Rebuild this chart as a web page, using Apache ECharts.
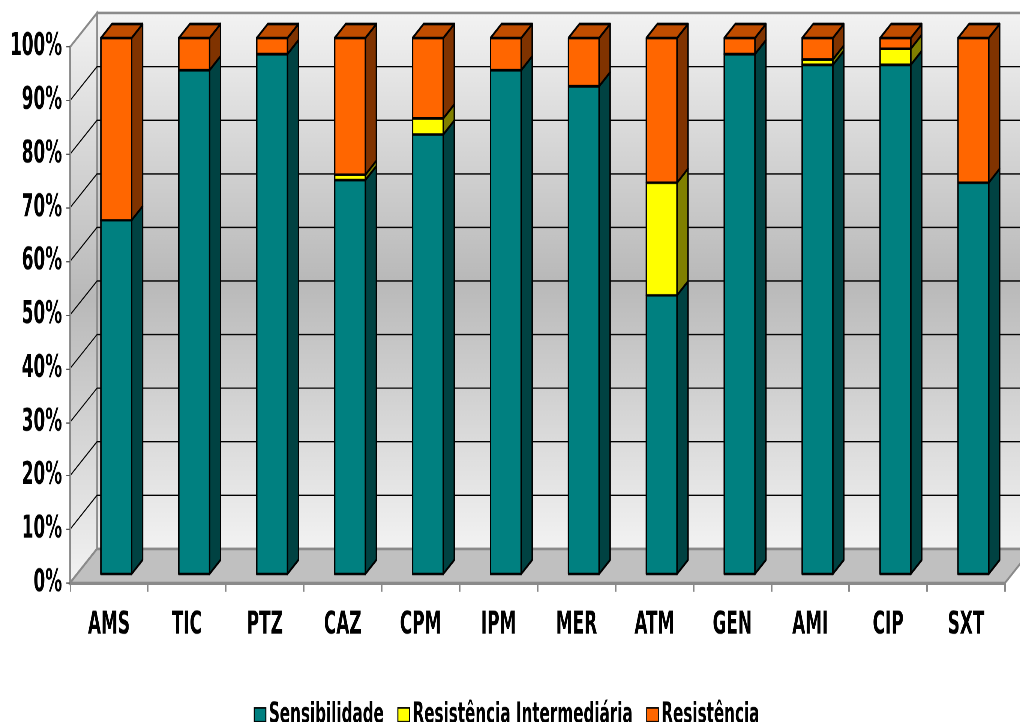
<!DOCTYPE html>
<html>
<head>
<meta charset="utf-8">
<script src="https://cdn.jsdelivr.net/npm/echarts@6/dist/echarts.min.js"></script>
<style>
  html, body { margin: 0; padding: 0; background: #ffffff; }
  #frame { position: relative; width: 1020px; height: 722px; overflow: hidden; background: #ffffff; }
  /* the chart is laid out wide and short, then squeezed/stretched into the frame */
  #chart { position: absolute; left: 0; top: 0; width: 1360px; height: 564.0625px;
           transform: scale(0.75, 1.28); transform-origin: 0 0; }
</style>
</head>
<body>
<div id="frame"><div id="chart"></div></div>
<script>
// Antimicrobial susceptibility profile (%), per drug
const categories = ['AMS', 'TIC', 'PTZ', 'CAZ', 'CPM', 'IPM', 'MER', 'ATM', 'GEN', 'AMI', 'CIP', 'SXT'];
const sensibilidade = [66, 94, 97, 73.5, 82, 94, 91, 52, 97, 95, 95, 73];
const intermediaria = [0, 0, 0, 1, 3, 0, 0, 21, 0, 1, 3, 0];
const resistencia = [34, 6, 3, 25.5, 15, 6, 9, 27, 3, 4, 2, 27];
const yTicks = [0, 10, 20, 30, 40, 50, 60, 70, 80, 90, 100];

const seriesNames = ['Sensibilidade', 'Resistência Intermediária', 'Resistência'];
const seriesValues = [sensibilidade, intermediaria, resistencia];
const faceColors = [
  { front: '#008080', side: '#004242', top: '#006060' },
  { front: '#FFFF00', side: '#808000', top: '#C0C000' },
  { front: '#FF6600', side: '#803300', top: '#C04D00' }
];

// horizontal / vertical scale applied to the chart element
const SX = 0.75, SY = 1.28;
const FONT = "'Liberation Sans Narrow', 'Arial Narrow', 'DejaVu Sans Condensed', sans-serif";
const DEPTH_X = 27 / SX, DEPTH_Y = 34 / SY;     // wall depth offset
const FRONT_X = 7.3 / SX, FRONT_Y = 9 / SY;     // bar front plane offset
const BAR_DX = 11 / SX, BAR_DY = 14 / SY;       // bar depth
const BAR_RATIO = 0.394;                        // bar width share of a category

// stacked segments: [category, start, end, isTopOfStack]
function buildStack(k) {
  const out = [];
  categories.forEach((c, i) => {
    let start = 0;
    for (let j = 0; j < k; j++) start += seriesValues[j][i];
    const end = start + seriesValues[k][i];
    let above = 0;
    for (let j = k + 1; j < seriesValues.length; j++) above += seriesValues[j][i];
    if (seriesValues[k][i] > 0) out.push([i, start, end, above > 0 ? 0 : 1]);
  });
  return out;
}

function renderBar(k) {
  const col = faceColors[k];
  return function (params, api) {
    const idx = api.value(0);
    const b = api.coord([idx, api.value(1)]);
    const t = api.coord([idx, api.value(2)]);
    const w = api.size([1, 0])[0] * BAR_RATIO;
    const x = b[0] + FRONT_X - w / 2;
    const yb = b[1] - FRONT_Y;
    const yt = t[1] - FRONT_Y;
    const edge = { stroke: '#000', lineWidth: 1.9, lineJoin: 'round' };
    const children = [
      {
        type: 'polygon',
        shape: { points: [[x + w, yb], [x + w + BAR_DX, yb - BAR_DY], [x + w + BAR_DX, yt - BAR_DY], [x + w, yt]] },
        style: Object.assign({ fill: col.side }, edge)
      },
      {
        type: 'rect',
        shape: { x: x, y: yt, width: w, height: yb - yt },
        style: Object.assign({ fill: col.front }, edge)
      }
    ];
    if (api.value(3) === 1) {
      children.push({
        type: 'polygon',
        shape: { points: [[x, yt], [x + w, yt], [x + w + BAR_DX, yt - BAR_DY], [x + BAR_DX, yt - BAR_DY]] },
        style: Object.assign({ fill: col.top }, edge)
      });
    }
    return { type: 'group', children: children };
  };
}

// back wall, side wall, floor and the gridlines drawn on them
function renderWalls(params, api) {
  const cs = params.coordSys;
  const L = cs.x, R = cs.x + cs.width;
  const B = api.coord([0, 0])[1];
  const T = api.coord([0, 100])[1];
  const grad = () => new echarts.graphic.LinearGradient(0, 0, 0, 1, [
    { offset: 0, color: '#f3f3f3' },
    { offset: 0.5, color: '#b9b9b9' },
    { offset: 1, color: '#f3f3f3' }
  ]);
  const children = [
    {
      type: 'polygon',
      shape: { points: [[L + DEPTH_X, T - DEPTH_Y], [R + DEPTH_X, T - DEPTH_Y], [R + DEPTH_X, B - DEPTH_Y], [L + DEPTH_X, B - DEPTH_Y]] },
      style: { fill: grad(), stroke: '#8a8a8a', lineWidth: 2 }
    },
    {
      type: 'polygon',
      shape: { points: [[L, B], [L + DEPTH_X, B - DEPTH_Y], [L + DEPTH_X, T - DEPTH_Y], [L, T]] },
      style: { fill: grad(), stroke: '#8a8a8a', lineWidth: 2 }
    }
  ];
  yTicks.forEach(v => {
    if (v === 0 || v === 100) return;
    const y = api.coord([0, v])[1];
    children.push({
      type: 'polyline',
      shape: { points: [[L, y], [L + DEPTH_X, y - DEPTH_Y], [R + DEPTH_X, y - DEPTH_Y]] },
      style: { stroke: '#000', lineWidth: 1.1, fill: null }
    });
  });
  children.push({
    type: 'polygon',
    shape: { points: [[L, B], [R, B], [R + DEPTH_X, B - DEPTH_Y], [L + DEPTH_X, B - DEPTH_Y]] },
    style: { fill: '#c0c0c0', stroke: '#8a8a8a', lineWidth: 2 }
  });
  return { type: 'group', children: children };
}

const chart = echarts.init(document.getElementById('chart'), null, { devicePixelRatio: 2 });

const series = [{
  type: 'custom',
  name: 'walls',
  z: -1,
  silent: true,
  clip: false,
  renderItem: renderWalls,
  data: [[0, 0]],
  encode: { x: 0, y: 1 }
}];
seriesNames.forEach((name, k) => {
  series.push({
    type: 'custom',
    name: name,
    z: 3 + k,
    clip: false,
    itemStyle: { color: faceColors[k].front, borderColor: '#000', borderWidth: 1.3 },
    renderItem: renderBar(k),
    data: buildStack(k),
    encode: { x: 0, y: [1, 2] }
  });
});

chart.setOption({
  animation: false,
  backgroundColor: '#ffffff',
  textStyle: { fontFamily: FONT },
  grid: { left: 70 / SX, right: 15 / SX, top: 47 / SY, bottom: (722 - 583) / SY, containLabel: false },
  xAxis: {
    type: 'category',
    data: categories,
    boundaryGap: true,
    axisLine: { lineStyle: { color: '#8a8a8a', width: 2 } },
    axisTick: { show: true, length: 7, lineStyle: { color: '#8a8a8a', width: 2 } },
    axisLabel: { margin: 20.5, color: '#000', fontSize: 25, fontWeight: 'bold', fontFamily: FONT },
    splitLine: { show: false }
  },
  yAxis: {
    type: 'value',
    min: 0,
    max: 100,
    interval: 10,
    axisLine: { show: true, lineStyle: { color: '#8a8a8a', width: 2.5 } },
    axisTick: { show: true, length: 5, lineStyle: { color: '#555', width: 1 } },
    axisLabel: { margin: 10.5, color: '#000', fontSize: 25, fontWeight: 'bold', fontFamily: FONT, formatter: '{value}%' },
    splitLine: { show: false }
  },
  legend: {
    data: seriesNames,
    left: 250 / SX,
    top: 542,
    itemWidth: 15.5,
    itemHeight: 10.7,
    itemGap: 18,
    icon: 'rect',
    itemStyle: { borderColor: '#000', borderWidth: 1.3 },
    textStyle: { color: '#000', fontSize: 22.5, fontWeight: 'bold', fontFamily: FONT, padding: [0, 0, 0, -1] }
  },
  series: series
});
</script>
</body>
</html>
